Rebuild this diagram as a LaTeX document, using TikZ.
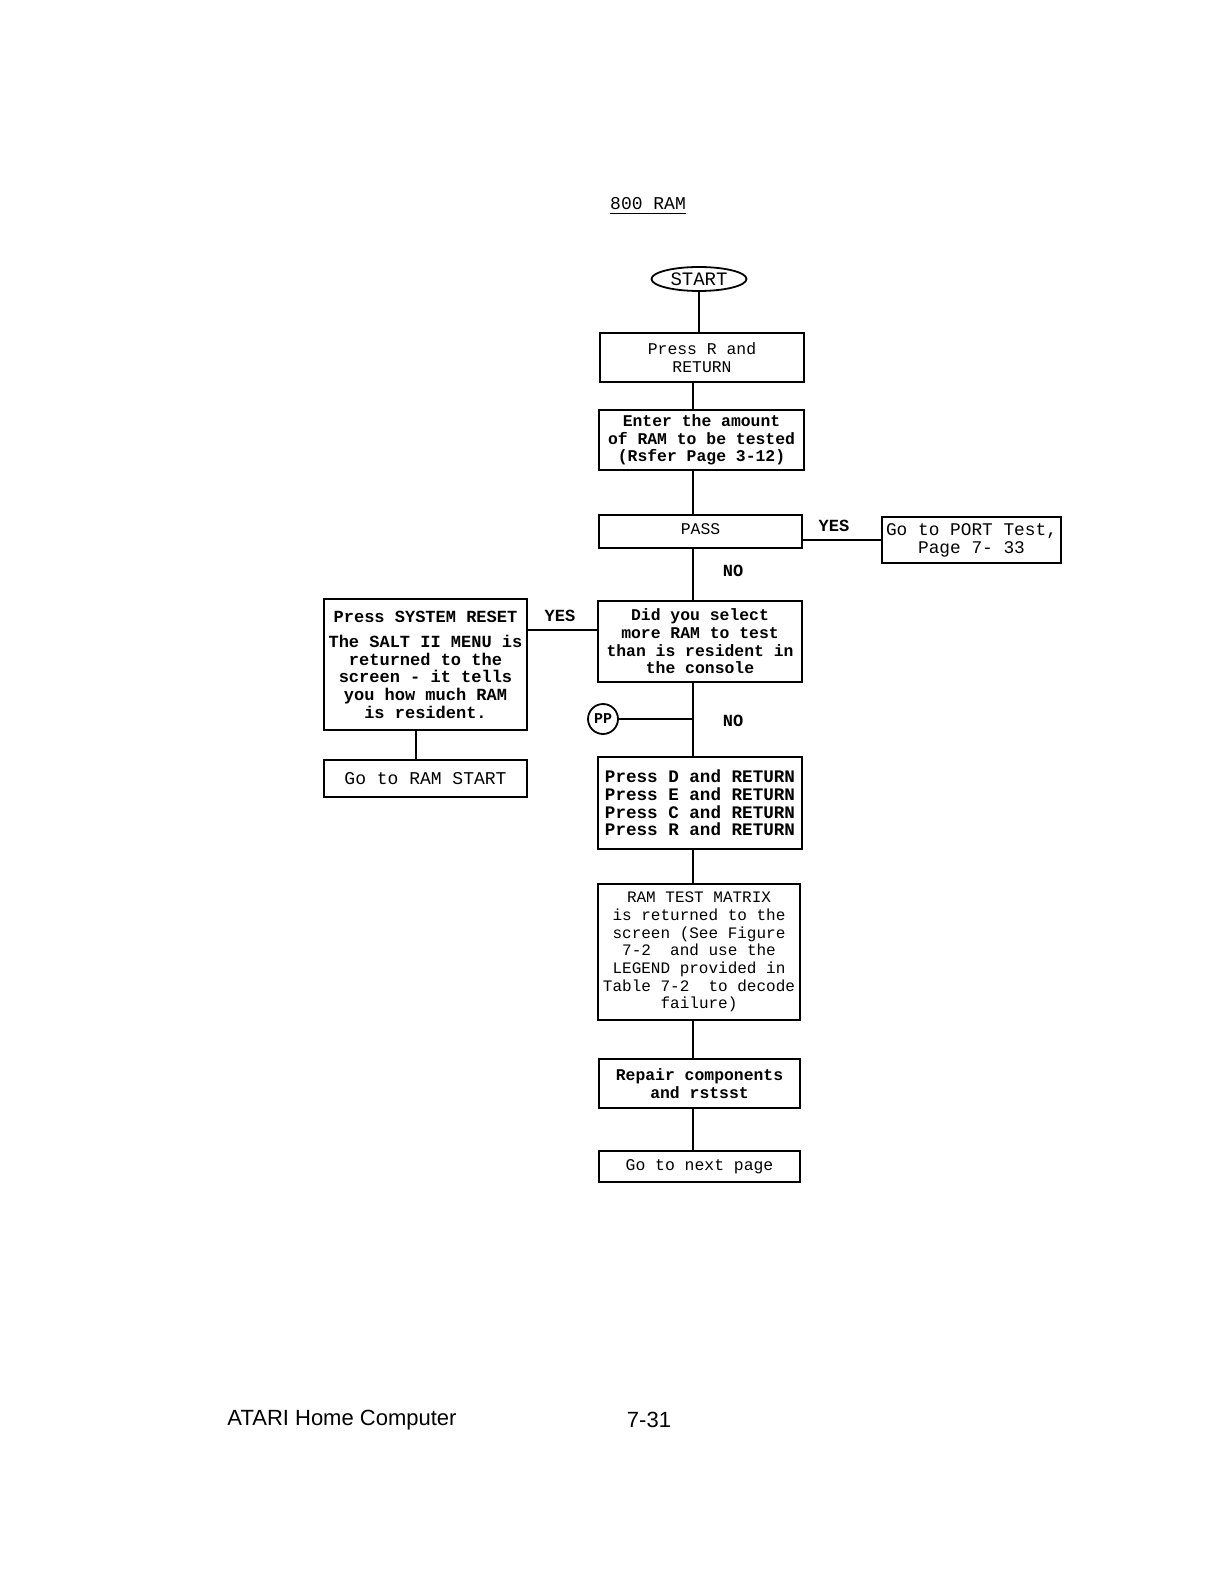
\documentclass[tikz,border=0pt]{standalone}
\usepackage{fontspec}
\setmainfont{Liberation Mono}
\newfontfamily\footfont{Liberation Sans}
\usetikzlibrary{shapes.geometric}
\tikzset{
  box/.style={draw, line width=0.9pt, rectangle, inner sep=0pt, align=center,
    font=\fontsize{8.2}{8.8}\selectfont\bfseries},
  wide/.style={font=\fontsize{9}{8.9}\selectfont\bfseries},
  light/.style={font=\fontsize{8.2}{8.8}\selectfont},
  lbl/.style={inner sep=0pt, font=\fontsize{8.5}{9}\selectfont\bfseries},
  conn/.style={line width=0.8pt},
}
\begin{document}
\begin{tikzpicture}[x=0.5pt,y=-0.5pt]
\useasboundingbox[fill=white] (0,0) rectangle (1224,1582);
% title
\node[inner sep=0pt, font=\fontsize{9}{10}\selectfont] (title) at (648,206) {\underline{800 RAM}};
% start
\node[draw, ellipse, line width=0.9pt, inner sep=0pt, minimum width=47.5pt, minimum height=12pt,
      font=\fontsize{9.5}{10}\selectfont] (start) at (699,279) {START};
\coordinate (spine) at (693,0);
% main boxes
\node[box, light, minimum width=102pt, minimum height=24.5pt] (b1) at (702,357.5) {Press R and\\RETURN};
\node[box, minimum width=102.5pt, minimum height=30pt] (b2) at (701.5,440) {Enter the amount\\of RAM to be tested\\(Rsfer Page 3-12)};
\node[box, light, minimum width=101.5pt, minimum height=16.5pt] (pass) at (700.5,531.5) {\raisebox{2.5pt}{PASS}};
\node[box, font=\fontsize{8.9}{8.9}\selectfont, minimum width=89.5pt, minimum height=23pt] (port) at (971.5,540) {Go to PORT Test,\\Page 7- 33};
\node[box, minimum width=102pt, minimum height=40.5pt] (did) at (700,641.5) {Did you select\\more RAM to test\\than is resident in\\the console};
\node[box, font=\fontsize{8.5}{8.8}\selectfont\bfseries, minimum width=101.5pt, minimum height=65.5pt] (left) at (425.5,664.5) {Press SYSTEM RESET\\[4pt]The SALT II MENU is\\returned to the\\screen - it tells\\you how much RAM\\is resident.};
\node[box, font=\fontsize{9}{9}\selectfont, minimum width=101.5pt, minimum height=18.5pt] (goram) at (425.5,778.5) {Go to RAM START};
\node[draw, circle, line width=0.9pt, inner sep=0pt, minimum size=15pt, font=\fontsize{7.5}{7.5}\selectfont\bfseries] (pp) at (603,719) {PP};
\node[box, font=\fontsize{8.8}{8.9}\selectfont\bfseries, minimum width=102pt, minimum height=46pt] (pressd) at (700,803) {Press D and RETURN\\Press E and RETURN\\Press C and RETURN\\Press R and RETURN};
\node[box, font=\fontsize{8}{8.85}\selectfont, minimum width=101pt, minimum height=68pt] (matrix) at (699,952) {RAM TEST MATRIX\\is returned to the\\screen (See Figure\\7-2 \ and use the\\LEGEND provided in\\Table 7-2 \ to decode\\failure)};
\node[box, minimum width=100.5pt, minimum height=24.5pt] (repair) at (699.5,1083.5) {Repair components\\and rstsst};
\node[box, light, minimum width=100.5pt, minimum height=15.5pt] (next) at (699.5,1166.5) {Go to next page};
% labels
\node[lbl] (yes1) at (834,526) {YES};
\node[lbl] (no1) at (733,571) {NO};
\node[lbl] (yes2) at (560,616) {YES};
\node[lbl] (no2) at (733,721) {NO};
% connectors
\draw[conn] (start.south) -- (start.south |- b1.north);
\draw[conn] (b1.south -| spine) -- (b2.north -| spine);
\draw[conn] (b2.south -| spine) -- (pass.north -| spine);
\draw[conn] (pass.south -| spine) -- (did.north -| spine);
\draw[conn] (did.south -| spine) -- (pressd.north -| spine);
\draw[conn] (pressd.south -| spine) -- (matrix.north -| spine);
\draw[conn] (matrix.south -| spine) -- (repair.north -| spine);
\draw[conn] (repair.south -| spine) -- (next.north -| spine);
\draw[conn] (pass.east |- port.west) -- (port.west);
\coordinate (ylev) at (560,630);
\draw[conn] (left.east |- ylev) -- (did.west |- ylev);
\draw[conn] ([xshift=-4.75pt]left.south) -- ([xshift=-4.75pt]goram.north);
\draw[conn] (pp.east) -- (pp.east -| spine);
% footer
\node[inner sep=0pt, font=\footfont\fontsize{11}{12}\selectfont] (foot1) at (342,1420) {ATARI Home Computer};
\node[inner sep=0pt, font=\footfont\fontsize{11}{12}\selectfont] (foot2) at (649,1420) {7-31};
\end{tikzpicture}
\end{document}
